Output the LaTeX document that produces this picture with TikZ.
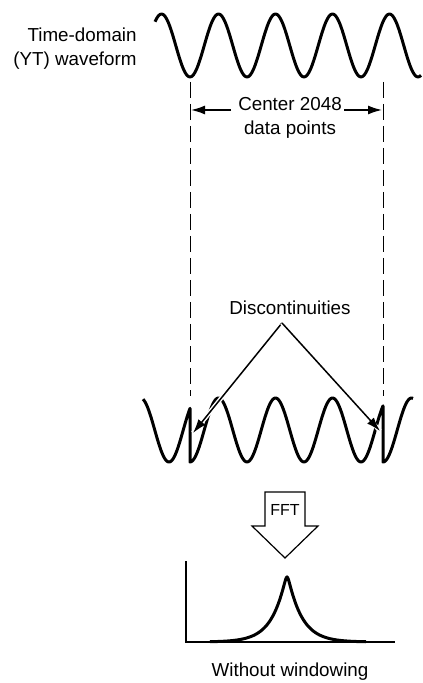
\documentclass[tikz,border=0pt]{standalone}
\usepackage{fontspec}
\setmainfont{Liberation Sans}
\usetikzlibrary{arrows.meta}

\begin{document}
\begin{tikzpicture}[x=0.5pt,y=-0.5pt,
    wave/.style={line width=1.5pt,line join=round},
    cut/.style={line width=0.5pt,dash pattern=on 8pt off 3pt},
    lbl/.style={font=\fontsize{9.4pt}{12pt}\selectfont,inner sep=0pt},
    pointer/.style={line width=0.75pt,-{Latex[length=7pt,width=4.5pt]}},
    halo/.style={preaction={draw=white,line width=2.2pt,arrows=-}}]
    \useasboundingbox (0,0) rectangle (422,683);

    % Draw the time-domain waveform (period 57, so 360/57 = 6.3158)
    \draw[wave] plot[domain=155:421,samples=160,smooth] (\x,{45.5+31.5*cos(6.3158*(\x-190))});
    \node[lbl,align=right,anchor=east] (tdlabel) at (137,49) {Time-domain\\(YT) waveform};

    % Mark the center 2048 points
    \coordinate (ltop) at (190,82);
    \coordinate (lbot) at (190,396);
    \coordinate (rtop) at (383,82);
    \coordinate (rbot) at (383,396);
    \draw[cut] (ltop) -- (lbot);
    \draw[cut] (rtop) -- (rbot);
    \node[lbl,align=center] (ctrlabel) at (290,118) {Center 2048\\data points};
    \coordinate (larr) at (231,110);
    \coordinate (lcut) at (191,110);
    \coordinate (rarr) at (344,110);
    \coordinate (rcut) at (382,110);
    \draw[pointer] (larr) -- (lcut);
    \draw[pointer] (rarr) -- (rcut);

    % Draw the repeated record
    \draw[wave] plot[domain=143:190,samples=40,smooth] (\x,{430+32*cos(6.3158*(\x+2))})
        -- plot[domain=190:383,samples=140,smooth] (\x,{430+32*cos(6.3158*(\x-190))})
        -- plot[domain=383:413,samples=30,smooth] (\x,{430+32*cos(6.3158*(\x-383))});

    % Point at the discontinuities
    \node[lbl] (disclabel) at (290,307.5) {Discontinuities};
    \coordinate (apex) at (282,323);
    \coordinate (ljump) at (193,433);
    \coordinate (rjump) at (380,431);
    \draw[pointer,halo] (apex) -- (ljump);
    \draw[pointer,halo] (apex) -- (rjump);

    % Draw the FFT arrow
    \draw[line width=0.6pt] (265,492) -- (305,492) -- (305,526) -- (318,526) -- (285,558)
        -- (252,526) -- (265,526) -- cycle;
    \node[lbl,font=\fontsize{8pt}{10pt}\selectfont] (fftlabel) at (285,510) {FFT};

    % Draw the spectrum
    \draw[line width=0.8pt] (186,561) -- (186,642) -- (395,642);
    \draw[wave] plot[domain=210:366,samples=240,smooth] (\x,{642-72*exp(-sqrt((\x-287)^2+2)/14)});
    \node[lbl] (winlabel) at (290,672) {Without windowing};
\end{tikzpicture}
\end{document}
